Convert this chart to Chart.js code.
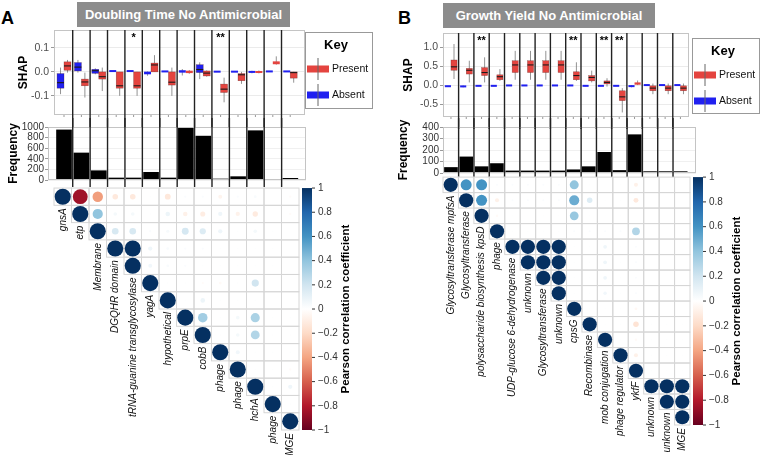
<!DOCTYPE html>
<html>
<head>
<meta charset="utf-8">
<script src="https://cdn.jsdelivr.net/npm/chart.js@4.4.1/dist/chart.umd.min.js"></script>
<style>
  body { margin: 0; background: #fff; }
  #fig { position: relative; width: 760px; height: 455px; overflow: hidden; font-family: "Liberation Sans", Arial, sans-serif; }
  #fig canvas { position: absolute; }
  .panel { position: absolute; font-weight: bold; font-size: 18px; line-height: 18px; }
  .title { position: absolute; height: 25px; line-height: 25px; background: #8c8c8c; color: #fff; font-weight: bold; font-size: 13px; text-align: center; }
</style>
</head>
<body>
<div id="fig">
  <div class="panel" style="left:1px;top:9px">A</div>
  <div class="title" style="left:77px;top:2px;width:213px">Doubling Time No Antimicrobial</div>
  <div class="panel" style="left:398px;top:9px">B</div>
  <div class="title" style="left:443px;top:3px;width:212px">Growth Yield No Antimicrobial</div>
  <canvas id="shapA" width="380" height="99" style="left:0;top:28px"></canvas>
  <canvas id="freqA" width="380" height="69" style="left:0;top:118px"></canvas>
  <canvas id="corrA" width="380" height="275" style="left:0;top:180px"></canvas>
  <canvas id="shapB" width="380" height="101" style="left:380px;top:28px"></canvas>
  <canvas id="freqB" width="380" height="67" style="left:380px;top:118px"></canvas>
  <canvas id="corrB" width="380" height="285" style="left:380px;top:170px"></canvas>
</div>
<script>
// ---- data ----
const featuresA = ['gnsA', 'etp', 'Membrane', 'DGQHR domain', 'tRNA-guanine transglycosylase', 'yagA', 'hypothetical', 'prpE', 'cobB', 'phage', 'phage', 'hchA', 'phage', 'MGE']
const featuresB = ['Glycosyltransferase mpfsA', 'Glycosyltransferase', 'polysaccharide biosynthesis kpsD', 'phage', 'UDP-glucose 6-dehydrogenase', 'unknown', 'Glycosyltransferase', 'unknown', 'cpsG', 'Recombinase', 'mob conjugation', 'phage regulator', 'ykfF', 'unknown', 'unknown', 'MGE']

// SHAP boxes: [min, q1, median, q3, max]
const absentA = [
  [-0.093, -0.068, -0.045, -0.007, 0.018], [-0.003, 0.004, 0.02, 0.039, 0.05], [-0.01, -0.006, 0.005, 0.011, 0.015],
  [0.003, 0.003, 0.004, 0.004, 0.005], [0.003, 0.003, 0.004, 0.004, 0.005], [-0.016, -0.01, -0.005, 0.001, 0.002],
  [0.002, 0.002, 0.002, 0.002, 0.002], [-0.015, -0.003, 0.0, 0.007, 0.012], [-0.03, -0.003, 0.01, 0.03, 0.04],
  [0.001, 0.001, 0.001, 0.001, 0.001], [0.001, 0.001, 0.001, 0.001, 0.001], [-0.006, -0.003, 0.0, 0.003, 0.005],
  [0.002, 0.002, 0.002, 0.002, 0.002], [0.002, 0.002, 0.002, 0.002, 0.002]
]
const presentA = [
  [-0.003, 0.007, 0.025, 0.042, 0.05], [-0.107, -0.058, -0.042, -0.03, -0.003], [-0.08, -0.03, -0.02, 0.0, 0.018],
  [-0.1, -0.068, -0.058, 0.0, 0.0], [-0.1, -0.068, -0.058, 0.0, 0.0], [0.0, 0.0, 0.029, 0.037, 0.07],
  [-0.1, -0.055, -0.043, 0.0, 0.018], [-0.008, -0.005, 0.0, 0.005, 0.008], [-0.02, -0.017, -0.005, 0.004, 0.006],
  [-0.127, -0.086, -0.072, -0.051, -0.024], [-0.05, -0.037, -0.012, -0.007, 0.0], [-0.006, -0.004, 0.0, 0.003, 0.006],
  [0.03, 0.032, 0.038, 0.044, 0.065], [-0.045, -0.026, -0.003, 0.0, 0.0]
]
const absentB = [
  [-0.04, -0.035, -0.03, -0.025, -0.02], [-0.06, -0.045, -0.035, -0.025, -0.01], [-0.03, -0.025, -0.02, -0.015, -0.01],
  [-0.03, -0.025, -0.02, -0.015, -0.01], [-0.015, -0.012, -0.01, -0.008, -0.005], [-0.015, -0.012, -0.01, -0.008, -0.005],
  [-0.015, -0.012, -0.01, -0.008, -0.005], [-0.015, -0.012, -0.01, -0.008, -0.005], [-0.015, -0.012, -0.01, -0.008, -0.005],
  [-0.03, -0.025, -0.02, -0.015, -0.01], [-0.03, -0.025, -0.02, -0.015, -0.01], [-0.03, -0.025, -0.02, -0.015, -0.01],
  [-0.06, -0.04, -0.03, -0.015, 0.0], [-0.003, -0.002, 0.0, 0.002, 0.003], [-0.003, -0.002, 0.0, 0.002, 0.003],
  [-0.003, -0.002, 0.0, 0.002, 0.003]
]
const presentB = [
  [0.16, 0.39, 0.48, 0.66, 1.08], [0.07, 0.29, 0.39, 0.44, 0.64], [0.07, 0.25, 0.33, 0.46, 0.73],
  [0.11, 0.14, 0.22, 0.27, 0.42], [0.14, 0.33, 0.53, 0.64, 0.9], [0.14, 0.33, 0.53, 0.64, 0.9],
  [0.14, 0.33, 0.53, 0.64, 0.9], [0.14, 0.33, 0.53, 0.64, 0.9], [0.11, 0.14, 0.25, 0.35, 0.6],
  [0.07, 0.11, 0.2, 0.25, 0.38], [-0.04, 0.03, 0.07, 0.11, 0.18], [-0.72, -0.41, -0.31, -0.15, -0.08],
  [0.0, 0.01, 0.04, 0.07, 0.12], [-0.24, -0.15, -0.08, -0.02, 0.04], [-0.24, -0.15, -0.08, -0.02, 0.04],
  [-0.24, -0.15, -0.08, -0.02, 0.04]
]
const starsA = ['', '', '', '', '*', '', '', '', '', '**', '', '', '', '']
const starsB = ['', '', '**', '', '', '', '', '', '**', '', '**', '**', '', '', '', '']
const shapTicksA = [-0.1, 0, 0.1]
const shapTicksB = [-0.5, 0, 0.5, 1]

const freqA = [945, 510, 175, 38, 38, 145, 38, 995, 828, 19, 63, 930, 8, 32]
const freqB = [48, 140, 55, 82, 18, 18, 18, 18, 28, 55, 180, 22, 333, 12, 12, 12]

// upper triangle of the correlation matrix, row i starts at column i
const corrA = [
  [1, -0.85, -0.42, -0.12, -0.12, 0.01, -0.13, 0.02, 0.02, -0.06, 0.02, 0.03, 0.0, -0.02],
  [1, 0.4, 0.05, 0.05, 0.01, 0.08, -0.08, -0.1, 0.07, -0.07, -0.11, 0.0, -0.02],
  [1, 0.17, 0.17, 0.02, 0.04, 0.18, 0.15, 0.07, 0.01, 0.05, 0.01, 0.0],
  [1, 1, 0.07, 0.03, 0.02, 0.02, 0.01, 0.01, 0.01, 0.01, 0.0],
  [1, 0.06, 0.03, 0.02, 0.01, 0.01, 0.01, 0.01, 0.01, 0.0],
  [1, 0.01, 0.01, -0.02, -0.03, 0.01, 0.2, 0.0],
  [1, 0.01, 0.08, 0.01, 0.01, 0.01, 0.0],
  [1, 0.35, 0.01, 0.05, 0.32, 0.01, 0.01],
  [1, 0.01, 0.05, 0.3, 0.01, 0.01],
  [1, 0.06, 0.01, 0.01, 0.01],
  [1, 0.01, 0.01, -0.02],
  [1, 0.01, 0.07],
  [1, 0.01],
  [1]
]
const corrB = [
  [1, 0.6, 0.6, 0.02, 0.02, 0.02, 0.02, 0.02, 0.4, 0.01, 0.01, 0.01, -0.08, 0.0, 0.0, 0.0],
  [1, 0.6, -0.08, 0.02, 0.02, 0.02, 0.02, 0.5, 0.15, 0.01, 0.01, -0.12, 0.0, 0.0, 0.0],
  [1, -0.03, 0.01, 0.01, 0.01, 0.01, 0.38, 0.01, 0.01, 0.01, 0.01, 0.0, 0.0, 0.0],
  [1, 0.01, 0.01, 0.01, 0.01, 0.02, 0.02, 0.02, 0.02, 0.3, 0.0, 0.0, 0.0],
  [1, 1, 1, 1, 0.01, 0.01, 0.07, 0.01, 0.02, 0.0, 0.0, 0.0],
  [1, 1, 1, 0.01, 0.01, 0.07, 0.01, 0.02, 0.0, 0.0, 0.0],
  [1, 1, 0.01, 0.01, 0.07, 0.01, 0.02, 0.0, 0.0, 0.0],
  [1, 0.01, 0.01, 0.06, 0.01, 0.02, 0.0, 0.0, 0.0],
  [1, 0.01, 0.01, 0.01, -0.04, 0.0, 0.0, 0.0],
  [1, 0.01, 0.01, -0.15, 0.01, 0.01, 0.01],
  [1, 0.01, -0.03, 0.01, 0.01, 0.01],
  [1, -0.08, 0.01, 0.01, 0.01],
  [1, 0.01, 0.01, 0.01],
  [1, 1, 1],
  [1, 1],
  [1]
]
const colorTicks = [1, 0.8, 0.6, 0.4, 0.2, 0, -0.2, -0.4, -0.6, -0.8, -1]
const keyLabels = ['Present', 'Absent']

// ---- style ----
Chart.defaults.font.family = '"Liberation Sans", Arial, sans-serif'
Chart.defaults.color = '#444'
Chart.defaults.animation = false
Chart.defaults.events = []
Chart.defaults.plugins.legend.display = false
Chart.defaults.plugins.tooltip.enabled = false

const RED = '#e4443f'
const BLUE = '#2020f0'
const RDBU = ['#67001F', '#B2182B', '#D6604D', '#F4A582', '#FDDBC7', '#FFFFFF', '#D1E5F0', '#92C5DE', '#4393C3', '#2166AC', '#053061']
const FONT = '"Liberation Sans", Arial, sans-serif'

const hex = h => [1, 3, 5].map(k => parseInt(h.slice(k, k + 2), 16))
const corrColor = v => {
  const t = (v + 1) / 2 * 10
  const i = Math.min(9, Math.floor(t))
  const f = t - i
  const a = hex(RDBU[i]), b = hex(RDBU[i + 1])
  return `rgb(${a.map((c, k) => Math.round(c + (b[k] - c) * f)).join(',')})`
}

const separators = (chart, n, y0, y1) => {
  const { ctx, scales: { x } } = chart
  ctx.save()
  ctx.strokeStyle = '#222'
  ctx.lineWidth = 1.4
  for (let i = 0; i < n - 1; i++) {
    const px = x.getPixelForValue(i + 0.5)
    ctx.beginPath()
    ctx.moveTo(px, y0)
    ctx.lineTo(px, y1)
    ctx.stroke()
  }
  ctx.restore()
}

const shapPlugin = (absent, present, stars, key) => ({
  id: 'shap',
  afterDatasetsDraw (chart) {
    const { ctx, chartArea: a, scales: { x, y } } = chart
    ctx.save()
    ctx.strokeStyle = '#c4c4c4'
    ctx.lineWidth = 1
    ctx.strokeRect(a.left + 0.5, a.top + 0.5, a.width - 1, a.height - 1)
    ctx.strokeStyle = '#999'
    present.forEach((s, i) => {
      const px = x.getPixelForValue(i)
      ctx.beginPath(); ctx.moveTo(px, a.bottom); ctx.lineTo(px, a.bottom + 2); ctx.stroke()
    })
    const half = (x.getPixelForValue(1) - x.getPixelForValue(0)) * 0.2
    const box = (s, xv, fill) => {
      const cx = x.getPixelForValue(xv)
      const [lo, q1, md, q3, hi] = s.map(v => y.getPixelForValue(v))
      ctx.strokeStyle = '#777'
      ctx.lineWidth = 0.8
      ctx.beginPath(); ctx.moveTo(cx, hi); ctx.lineTo(cx, lo); ctx.stroke()
      let top = q3, h = q1 - q3
      if (h < 2) { top = (q1 + q3) / 2 - 1; h = 2 }
      ctx.fillStyle = fill
      ctx.fillRect(cx - half, top, half * 2, h)
      if (h > 3) {
        ctx.strokeStyle = 'rgba(70,20,20,0.5)'
        ctx.lineWidth = 0.5
        ctx.strokeRect(cx - half, top, half * 2, h)
        ctx.strokeStyle = '#1a1a1a'
        ctx.lineWidth = 1.1
        ctx.beginPath(); ctx.moveTo(cx - half, md); ctx.lineTo(cx + half, md); ctx.stroke()
      }
    }
    absent.forEach((s, i) => box(s, i - 0.2, BLUE))
    present.forEach((s, i) => box(s, i + 0.2, RED))

    ctx.fillStyle = '#000'
    ctx.font = `bold 11px ${FONT}`
    ctx.textAlign = 'center'
    ctx.textBaseline = 'top'
    stars.forEach((s, i) => s && ctx.fillText(s, x.getPixelForValue(i), a.top + 2))
    ctx.restore()

    separators(chart, present.length, a.top, chart.height)

    // key
    const bx = a.right + key.dx, by = key.top
    ctx.save()
    ctx.strokeStyle = '#999'
    ctx.lineWidth = 1
    ctx.strokeRect(bx + 0.5, by + 0.5, 67, key.h)
    ctx.fillStyle = '#000'
    ctx.font = `bold 13px ${FONT}`
    ctx.textAlign = 'center'
    ctx.textBaseline = 'middle'
    ctx.fillText('Key', bx + 31, by + 13)
    ;[[keyLabels[0], RED, 37], [keyLabels[1], BLUE, 63]].forEach(([t, c, dy]) => {
      ctx.fillStyle = c
      ctx.fillRect(bx + 2, by + dy - 3.5, 22, 7)
      ctx.strokeStyle = '#666'
      ctx.beginPath(); ctx.moveTo(bx + 13, by + dy - 11); ctx.lineTo(bx + 13, by + dy + 11); ctx.stroke()
      ctx.fillStyle = '#111'
      ctx.font = `10.5px ${FONT}`
      ctx.textAlign = 'left'
      ctx.fillText(t, bx + 27, by + dy)
    })
    ctx.restore()
  }
})

const freqPlugin = (n, ext) => ({
  id: 'freq',
  afterDatasetsDraw (chart) {
    const { ctx, chartArea: a } = chart
    ctx.save()
    ctx.strokeStyle = '#c4c4c4'
    ctx.lineWidth = 1
    ctx.strokeRect(a.left + 0.5, a.top + 0.5, a.width - 1, a.height - 1)
    ctx.restore()
    separators(chart, n, 0, a.bottom + ext)
  }
})

const corrPlugin = labels => ({
  id: 'corr',
  beforeDatasetsDraw (chart) {
    const { ctx, scales: { x, y } } = chart
    const n = labels.length
    ctx.save()
    ctx.strokeStyle = '#d6d6d6'
    ctx.lineWidth = 1
    for (let i = 0; i < n; i++) {
      for (let j = i; j < n; j++) {
        const x0 = x.getPixelForValue(j - 0.5), x1 = x.getPixelForValue(j + 0.5)
        const y0 = y.getPixelForValue(i - 0.5), y1 = y.getPixelForValue(i + 0.5)
        ctx.strokeRect(x0, y0, x1 - x0, y1 - y0)
      }
    }
    ctx.restore()
  },
  afterDatasetsDraw (chart) {
    const { ctx, chartArea: a, scales: { x, y } } = chart
    // colour bar value -> pixel, along the matrix height
    const cbPx = v => a.top + (1 - v) / 2 * (a.bottom - a.top)
    ctx.save()
    ctx.fillStyle = '#111'
    ctx.font = `italic 10px ${FONT}`
    ctx.textAlign = 'right'
    ctx.textBaseline = 'middle'
    labels.forEach((t, i) => {
      ctx.save()
      ctx.translate(x.getPixelForValue(i), y.getPixelForValue(i + 0.5) + 3)
      ctx.rotate(-Math.PI / 2)
      ctx.fillText(t, 0, 0)
      ctx.restore()
    })

    const x0 = a.right + 3, x1 = a.right + 13
    const g = ctx.createLinearGradient(0, cbPx(1), 0, cbPx(-1))
    RDBU.forEach((c, k) => g.addColorStop(1 - k / 10, c))
    ctx.fillStyle = g
    ctx.fillRect(x0, cbPx(1), x1 - x0, cbPx(-1) - cbPx(1))
    ctx.strokeStyle = '#333'
    ctx.lineWidth = 1
    ctx.fillStyle = '#333'
    ctx.font = `10px ${FONT}`
    ctx.textAlign = 'left'
    colorTicks.forEach(v => {
      const py = cbPx(v)
      ctx.beginPath(); ctx.moveTo(x1, py); ctx.lineTo(x1 + 3, py); ctx.stroke()
      const s = v === 0 ? '0' : (v < 0 ? '\u2212' : '') + Math.abs(v)
      ctx.fillText(s, x1 + 6, py)
    })
    ctx.save()
    ctx.translate(a.right + 47, (a.top + a.bottom) / 2)
    ctx.rotate(-Math.PI / 2)
    ctx.fillStyle = '#000'
    ctx.font = `bold 11.5px ${FONT}`
    ctx.textAlign = 'center'
    ctx.fillText('Pearson correlation coefficient', 0, 0)
    ctx.restore()
    ctx.restore()
  }
})

const makeShap = (id, absent, present, stars, ticks, cfg) => {
  new Chart(document.getElementById(id), {
    type: 'scatter',
    data: { datasets: [{ data: [] }] },
    options: {
      responsive: false,
      layout: { padding: { top: cfg.pad[0], right: cfg.pad[1], bottom: cfg.pad[2], left: 0 } },
      scales: {
        x: { type: 'linear', min: cfg.xmin, max: cfg.xmax, display: false },
        y: {
          min: cfg.ymin,
          max: cfg.ymax,
          afterBuildTicks: s => { s.ticks = ticks.map(v => ({ value: v })) },
          afterFit: s => { s.width = cfg.axisW; s.paddingTop = 0; s.paddingBottom = 0 },
          ticks: { callback: v => v.toFixed(1), padding: 2, color: '#4d4d4d', font: { size: 10.5 } },
          grid: { color: '#ebebeb', tickLength: 3, tickColor: '#999' },
          border: { display: false },
          title: { display: true, text: 'SHAP', color: '#000', font: { size: 12, weight: 'bold' }, padding: { top: cfg.titlePad, bottom: 0 } }
        }
      }
    },
    plugins: [shapPlugin(absent, present, stars, cfg.key)]
  })
}

const makeFreq = (id, freq, cfg) => {
  new Chart(document.getElementById(id), {
    type: 'bar',
    data: {
      datasets: [{
        label: 'Frequency',
        data: freq.map((v, i) => ({ x: i, y: v })),
        backgroundColor: '#000',
        barThickness: cfg.bar,
        xAxisID: 'x',
        yAxisID: 'y'
      }]
    },
    options: {
      responsive: false,
      layout: { padding: { top: cfg.pad[0], right: cfg.pad[1], bottom: cfg.pad[2], left: 0 } },
      scales: {
        x: { type: 'linear', offset: false, grid: { offset: false }, min: cfg.xmin, max: cfg.xmax, display: false },
        y: {
          min: 0,
          max: cfg.ymax,
          ticks: { stepSize: cfg.step, autoSkip: false, padding: 1, color: '#333', font: { size: 10 }, callback: v => String(v) },
          afterFit: s => { s.width = cfg.axisW; s.paddingTop = 0; s.paddingBottom = 0 },
          grid: { color: '#f0f0f0', tickLength: 3, tickColor: '#999' },
          border: { display: false },
          title: { display: true, text: 'Frequency', color: '#000', font: { size: 12, weight: 'bold' }, padding: { top: cfg.titlePad, bottom: 0 } }
        }
      }
    },
    plugins: [freqPlugin(freq.length, cfg.ext)]
  })
}

const makeCorr = (id, rows, labels, cfg) => {
  const n = labels.length
  const cells = rows.flatMap((row, i) => row.map((v, k) => ({ x: i + k, y: i, v })))
  new Chart(document.getElementById(id), {
    type: 'bubble',
    data: {
      datasets: [{
        // circle area follows |r|
        data: cells.map(c => ({ x: c.x, y: c.y, r: Math.max(0.01, cfg.cell * 0.46 * Math.sqrt(Math.abs(c.v))) })),
        backgroundColor: cells.map(c => corrColor(c.v)),
        borderWidth: 0,
        xAxisID: 'x',
        yAxisID: 'y'
      }]
    },
    options: {
      responsive: false,
      layout: { padding: { left: cfg.pad[0], right: cfg.pad[1], top: cfg.pad[2], bottom: cfg.pad[3] } },
      scales: {
        x: { type: 'linear', min: -0.5, max: n - 0.5, display: false },
        y: { type: 'linear', min: -0.5, max: n - 0.5, reverse: true, display: false }
      }
    },
    plugins: [corrPlugin(labels)]
  })
}

makeShap('shapA', absentA, presentA, starsA, shapTicksA, {
  xmin: -0.575, xmax: 13.85, ymin: -0.18, ymax: 0.175, pad: [2, 75, 12], axisW: 54, titlePad: 16,
  key: { dx: 0, top: 4, h: 76 }
})
makeFreq('freqA', freqA, { xmin: -0.92, xmax: 13.9, ymax: 1000, step: 200, pad: [9, 74, 7], axisW: 48, titlePad: 6, bar: 15, ext: 7 })
makeCorr('corrA', corrA, featuresA, { pad: [54, 81, 7, 25], cell: 17.5 })

makeShap('shapB', absentB, presentB, starsB, shapTicksB, {
  xmin: -0.52, xmax: 15.56, ymin: -0.84, ymax: 1.37, pad: [5, 71, 12], axisW: 63, titlePad: 21,
  key: { dx: 3, top: 10, h: 75 }
})
makeFreq('freqB', freqB, { xmin: -0.52, xmax: 16.0, ymax: 400, step: 100, pad: [9, 64, 12], axisW: 63, titlePad: 16, bar: 13, ext: 4 })
makeCorr('corrB', corrB, featuresB, { pad: [63, 70, 7, 30], cell: 15.44 })
</script>
</body>
</html>
